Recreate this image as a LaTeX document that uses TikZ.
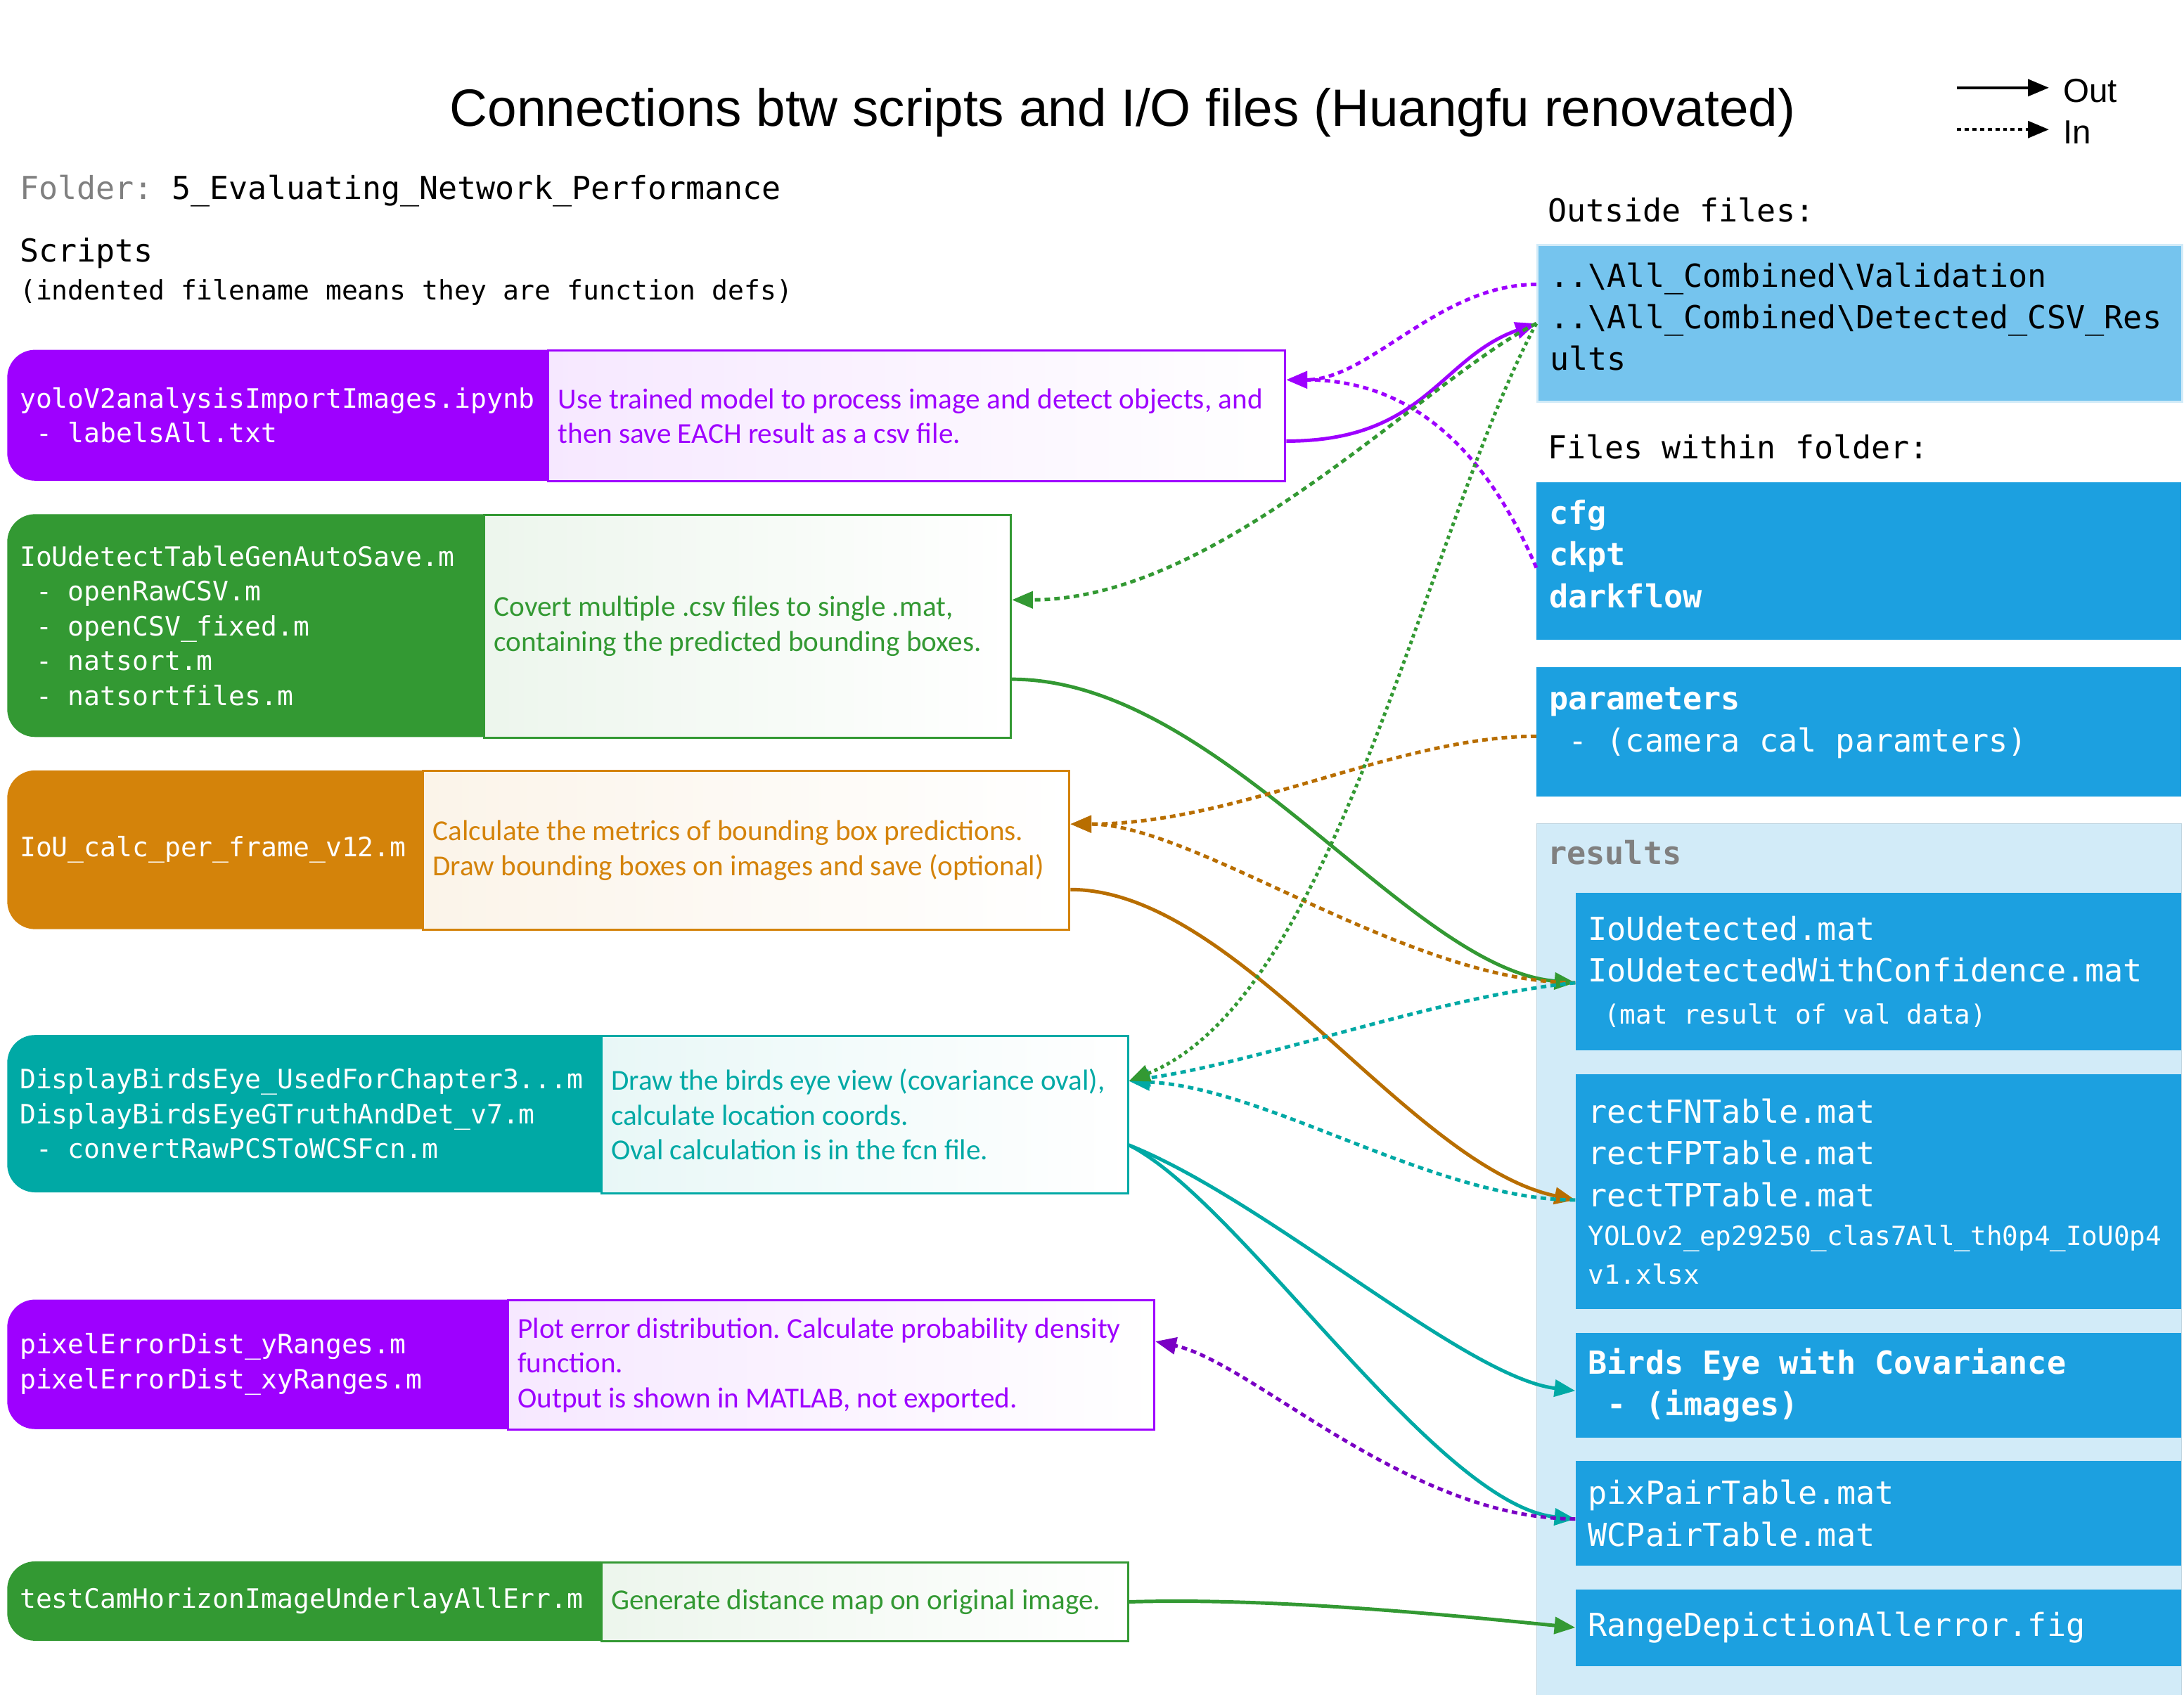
\documentclass[tikz,border=0pt]{standalone}
\usepackage{fontspec}
\setmainfont{Carlito}
\newfontfamily\titlefont{Liberation Sans}
\newfontfamily\codefont{DejaVu Sans Mono}
\usetikzlibrary{arrows.meta,calc}
\hyphenpenalty=10000
\exhyphenpenalty=10000
\frenchspacing
% full-width spaces for the mono font
\newcommand{\monosp}{\spaceskip=0.602em\relax}
% the font's own spaces
\newcommand{\fontsp}{\spaceskip=0pt\xspaceskip=0pt\relax}

\definecolor{cpurple}{HTML}{9E00FF}
\definecolor{cviolet}{HTML}{7A00C4}
\definecolor{cgreen}{HTML}{339933}
\definecolor{corange}{HTML}{D4830A}
\definecolor{cbrown}{HTML}{B86E00}
\definecolor{cteal}{HTML}{00A9A5}
\definecolor{cblue}{HTML}{1CA0E0}
\definecolor{clight}{HTML}{75C4EE}
\definecolor{cpale}{HTML}{D2EBF8}
\definecolor{cgray}{HTML}{808080}

\begin{document}
\begin{tikzpicture}[x=1pt, y=-1pt,
		script_style/.style={anchor=north west, rounded corners=20pt, text=white, inner xsep=9pt, inner ysep=0pt, align=left, font=\codefont\fontsize{19.2}{25}\selectfont, execute at begin node=\monosp},
		desc_style/.style={anchor=north west, draw=#1, line width=1.5pt, left color=#1!9, right color=white, text=#1, inner xsep=7pt, inner ysep=0pt, align=left, font=\fontsize{20.8}{25}\selectfont, execute at begin node=\fontsp},
		file_style/.style={anchor=north west, fill=cblue, text=white, inner xsep=9pt, inner ysep=0pt, align=left, text width=#1, font=\codefont\fontsize{22.8}{30}\selectfont, execute at begin node=\monosp},
		head_style/.style={anchor=west, inner sep=0pt, font=\codefont\fontsize{22.7}{27}\selectfont, execute at begin node=\monosp},
		out_style/.style={line width=2.5pt, -{Triangle[length=15pt,width=12pt]}},
		in_style/.style={out_style, dash pattern=on 4pt off 3pt}]

		\useasboundingbox (0,0) rectangle (1568,1217);

		% title and legend
		\node[font=\titlefont\fontsize{37.7}{45}\selectfont] (title) at (806,81) {Connections btw scripts and I/O files (Huangfu renovated)};
		\node[anchor=west, inner sep=0pt, font=\titlefont\fontsize{24}{28}\selectfont] (lg_out) at (1481,65) {Out};
		\node[anchor=west, inner sep=0pt, font=\titlefont\fontsize{24}{28}\selectfont] (lg_in) at (1481,95) {In};
		\coordinate (lg_out_start) at (1405,63);
		\coordinate (lg_out_end) at (1471,63);
		\coordinate (lg_in_start) at (1405,93);
		\coordinate (lg_in_end) at (1471,93);
		\draw[out_style, line width=2pt] (lg_out_start) -- (lg_out_end);
		\draw[out_style, line width=2pt, dash pattern=on 3pt off 2.5pt] (lg_in_start) -- (lg_in_end);

		% headings
		\node[head_style] (folder_lbl) at (14,137) {\textcolor{cgray}{Folder:} 5\_Evaluating\_Network\_Performance};
		\node[head_style] (scripts_lbl) at (14,182) {Scripts};
		\node[head_style, font=\codefont\fontsize{19.2}{22}\selectfont] (indent_lbl) at (14,210) {(indented filename means they are function defs)};
		\node[head_style] (outside_lbl) at (1111,151) {Outside files:};
		\node[head_style] (within_lbl) at (1111,321) {Files within folder:};

		% scripts
		\node[script_style, fill=cpurple, text width=390, minimum height=94] (scr_yolo) at (5,251) {yoloV2analysisImportImages.ipynb\\~- labelsAll.txt};
		\node[desc_style=cpurple, text width=515, minimum height=94] (dsc_yolo) at (393,251) {Use trained model to process image and detect objects, and\\then save EACH result as a csv file.};

		\node[script_style, fill=cgreen, text width=344, minimum height=160] (scr_tablegen) at (5,369) {IoUdetectTableGenAutoSave.m\\~- openRawCSV.m\\~- openCSV\_fixed.m\\~- natsort.m\\~- natsortfiles.m};
		\node[desc_style=cgreen, text width=364, minimum height=160] (dsc_tablegen) at (347,369) {Covert multiple .csv files to single .mat,\\containing the predicted bounding boxes.};

		\node[script_style, fill=corange, text width=300, minimum height=114] (scr_ioucalc) at (5,553) {IoU\_calc\_per\_frame\_v12.m};
		\node[desc_style=corange, text width=450, minimum height=114] (dsc_ioucalc) at (303,553) {Calculate the metrics of bounding box predictions.\\Draw bounding boxes on images and save (optional)};

		\node[script_style, fill=cteal, text width=428, minimum height=113] (scr_birdseye) at (5,743) {DisplayBirdsEye\_UsedForChapter3...m\\DisplayBirdsEyeGTruthAndDet\_v7.m\\~- convertRawPCSToWCSFcn.m};
		\node[desc_style=cteal, text width=364, minimum height=113] (dsc_birdseye) at (431,743) {Draw the birds eye view (covariance oval),\\calculate location coords.\\Oval calculation is in the fcn file.};

		\node[script_style, fill=cpurple, text width=361, minimum height=93] (scr_pixerr) at (5,933) {pixelErrorDist\_yRanges.m\\pixelErrorDist\_xyRanges.m};
		\node[desc_style=cpurple, text width=450, minimum height=93] (dsc_pixerr) at (364,933) {Plot error distribution. Calculate probability density\\function.\\Output is shown in MATLAB, not exported.};

		\node[script_style, fill=cgreen, text width=428, minimum height=57] (scr_range) at (5,1121) {testCamHorizonImageUnderlayAllErr.m};
		\node[desc_style=cgreen, text width=364, minimum height=57] (dsc_range) at (431,1121) {Generate distance map on original image.};

		% files
		\node[file_style=445, fill=clight, draw=cpale, line width=1.5pt, text=black, minimum height=113] (ext_files) at (1103,175) {..\textbackslash All\_Combined\textbackslash Validation\\..\textbackslash All\_Combined\textbackslash Detected\_CSV\_Res\\ults\\[-20pt]\mbox{}};
		\node[file_style=445, minimum height=113] (dir_files) at (1103,346) {\textbf{cfg}\\\textbf{ckpt}\\\textbf{darkflow}\\[-20pt]\mbox{}};
		\node[file_style=445, minimum height=93] (par_files) at (1103,479) {\textbf{parameters}\\~- (camera cal paramters)\\[-12pt]\mbox{}};

		\node[anchor=north west, fill=cpale, draw=cpale!80!gray, inner sep=0pt, minimum width=463, minimum height=626] (res_box) at (1103,591) {};
		\node[anchor=north west, inner sep=0pt, text=cgray, font=\codefont\bfseries\fontsize{22.8}{27}\selectfont] (res_lbl) at ([xshift=8pt, yshift=-12pt]res_box.north west) {results};
		\node[file_style=417, minimum height=113] (res_iou) at (1131,641) {IoUdetected.mat\\IoUdetectedWithConfidence.mat\\{\fontsize{19}{30}\selectfont\monosp ~(mat result of val data)}};
		\node[file_style=417, minimum height=169] (res_rect) at (1131,771) {rectFNTable.mat\\rectFPTable.mat\\rectTPTable.mat\\[-2pt]{\fontsize{19}{28}\selectfont YOLOv2\_ep29250\_clas7All\_th0p4\_IoU0p4}\\[-2pt]{\fontsize{19}{28}\selectfont v1.xlsx}};
		\node[file_style=417, minimum height=75] (res_birds) at (1131,957) {\textbf{Birds Eye with Covariance}\\\textbf{~- (images)}};
		\node[file_style=417, minimum height=75] (res_pix) at (1131,1049) {pixPairTable.mat\\WCPairTable.mat};
		\node[file_style=417, minimum height=55] (res_range) at (1131,1141) {RangeDepictionAllerror.fig};

		% connections
		\draw[out_style, cpurple] ([yshift=-18pt]dsc_yolo.east) .. controls +(100,0) and +(-70,25) .. (ext_files.west);
		\draw[in_style, cpurple] ([yshift=28pt]ext_files.west) .. controls +(-70,0) and +(60,0) .. ([yshift=26pt]dsc_yolo.east);
		\draw[in_style, cpurple] ([yshift=-5pt]dir_files.west) .. controls +(-30,-70) and +(100,0) .. ([yshift=26pt]dsc_yolo.east);

		\draw[in_style, cgreen] (ext_files.west) .. controls +(-80,40) and +(150,0) .. ([yshift=19pt]dsc_tablegen.east);
		\draw[out_style, cgreen] ([yshift=-38pt]dsc_tablegen.east) .. controls +(150,0) and +(-120,-10) .. ([yshift=-8pt]res_iou.west);

		\draw[in_style, cbrown] ([yshift=-3pt]par_files.west) .. controls +(-100,0) and +(120,0) .. ([yshift=19pt]dsc_ioucalc.east);
		\draw[in_style, cbrown] ([yshift=-8pt]res_iou.west) .. controls +(-120,0) and +(90,0) .. ([yshift=19pt]dsc_ioucalc.east);
		\draw[out_style, cbrown] ([yshift=-28pt]dsc_ioucalc.east) .. controls +(120,0) and +(-120,-25) .. ([yshift=-6pt]res_rect.west);

		\draw[in_style, cteal] ([yshift=-8pt]res_iou.west) .. controls +(-100,10) and +(100,-15) .. ([yshift=24pt]dsc_birdseye.east);
		\draw[in_style, cteal] ([yshift=-6pt]res_rect.west) .. controls +(-100,0) and +(100,5) .. ([yshift=24pt]dsc_birdseye.east);
		\draw[in_style, cgreen, dash pattern=on 2.5pt off 2.5pt] (ext_files.west) .. controls +(-80,150) and +(150,-60) .. ([yshift=24pt]dsc_birdseye.east);
		\draw[out_style, cteal] ([yshift=-22pt]dsc_birdseye.east) .. controls +(100,40) and +(-80,-10) .. ([yshift=-4pt]res_birds.west);
		\draw[out_style, cteal] ([yshift=-22pt]dsc_birdseye.east) .. controls +(80,40) and +(-100,-10) .. ([yshift=-4pt]res_pix.west);

		\draw[in_style, cviolet] ([yshift=-4pt]res_pix.west) .. controls +(-120,0) and +(70,15) .. ([yshift=17pt]dsc_pixerr.east);
		\draw[out_style, cgreen] (dsc_range.east) .. controls +(100,-3) and +(-100,-10) .. (res_range.west);

\end{tikzpicture}
\end{document}
